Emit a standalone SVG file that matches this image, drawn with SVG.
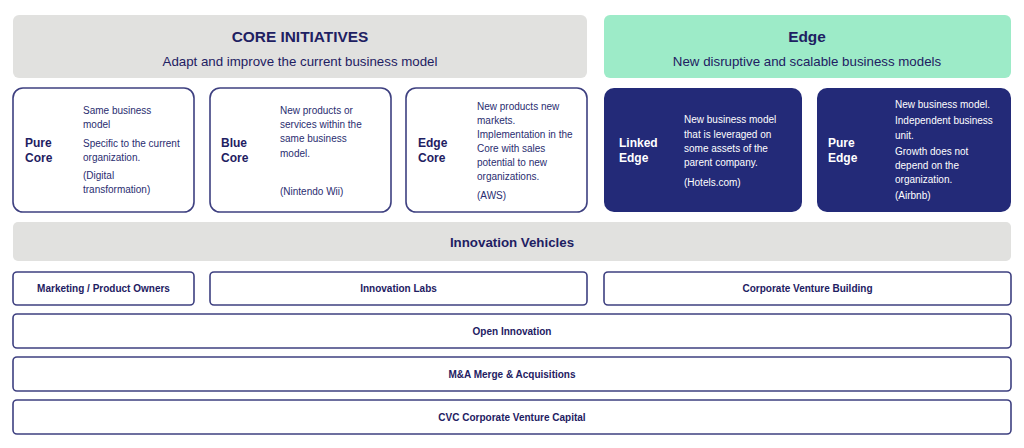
<svg xmlns="http://www.w3.org/2000/svg" width="1024" height="448" viewBox="0 0 1024 448">
<style>
text{font-family:"Liberation Sans",Arial,sans-serif;fill:#1e2062}
.hdr{fill:#e1e1df}
.edgehdr{fill:#9debc8}
.title{font-size:15.4px;font-weight:bold;text-anchor:middle}
.sub{font-size:13.3px;text-anchor:middle}
.card{fill:#fff;stroke:#3e4080;stroke-width:1.6}
.dark{fill:#232a78}
.lbl{font-size:12px;font-weight:bold}
.desc{font-size:10px;fill:#2a2d70}
.dark-t{fill:#fff}
.row{fill:#fff;stroke:#3e4080;stroke-width:1.6}
.rowt{font-size:10px;font-weight:bold;text-anchor:middle}
</style>
<rect width="1024" height="448" fill="#fff"/>
<g id="core-header">
<rect class="hdr" x="13" y="15" width="574" height="63" rx="6"/>
<text class="title" x="300" y="42">CORE INITIATIVES</text>
<text class="sub" x="300" y="66">Adapt and improve the current business model</text>
</g>
<g id="edge-header">
<rect class="edgehdr" x="604" y="15" width="407" height="63" rx="6"/>
<text class="title" x="807" y="42">Edge</text>
<text class="sub" x="807" y="66">New disruptive and scalable business models</text>
</g>
<g id="pure-core">
<rect class="card" x="13" y="88" width="181" height="124" rx="10"/>
<text class="lbl" x="25" y="147">Pure</text>
<text class="lbl" x="25" y="162">Core</text>
<text class="desc" x="83" y="114">Same business</text>
<text class="desc" x="83" y="128">model</text>
<text class="desc" x="83" y="147">Specific to the current</text>
<text class="desc" x="83" y="161">organization.</text>
<text class="desc" x="83" y="179">(Digital</text>
<text class="desc" x="83" y="193">transformation)</text>
</g>
<g id="blue-core">
<rect class="card" x="210" y="88" width="181" height="124" rx="10"/>
<text class="lbl" x="221" y="147">Blue</text>
<text class="lbl" x="221" y="162">Core</text>
<text class="desc" x="280" y="114">New products or</text>
<text class="desc" x="280" y="128">services within the</text>
<text class="desc" x="280" y="142">same business</text>
<text class="desc" x="280" y="157">model.</text>
<text class="desc" x="280" y="195">(Nintendo Wii)</text>
</g>
<g id="edge-core">
<rect class="card" x="406" y="88" width="181" height="124" rx="10"/>
<text class="lbl" x="418" y="147">Edge</text>
<text class="lbl" x="418" y="162">Core</text>
<text class="desc" x="477" y="110">New products new</text>
<text class="desc" x="477" y="124">markets.</text>
<text class="desc" x="477" y="138">Implementation in the</text>
<text class="desc" x="477" y="152">Core with sales</text>
<text class="desc" x="477" y="166">potential to new</text>
<text class="desc" x="477" y="180">organizations.</text>
<text class="desc" x="477" y="199">(AWS)</text>
</g>
<g id="linked-edge">
<rect class="dark" x="604" y="88" width="198" height="124" rx="10"/>
<text class="lbl dark-t" x="619" y="147">Linked</text>
<text class="lbl dark-t" x="619" y="162">Edge</text>
<text class="desc dark-t" x="684" y="123">New business model</text>
<text class="desc dark-t" x="684" y="138">that is leveraged on</text>
<text class="desc dark-t" x="684" y="152">some assets of the</text>
<text class="desc dark-t" x="684" y="166">parent company.</text>
<text class="desc dark-t" x="684" y="186">(Hotels.com)</text>
</g>
<g id="pure-edge">
<rect class="dark" x="817" y="88" width="194" height="124" rx="10"/>
<text class="lbl dark-t" x="828" y="147">Pure</text>
<text class="lbl dark-t" x="828" y="162">Edge</text>
<text class="desc dark-t" x="895" y="108">New business model.</text>
<text class="desc dark-t" x="895" y="124">Independent business</text>
<text class="desc dark-t" x="895" y="139">unit.</text>
<text class="desc dark-t" x="895" y="155">Growth does not</text>
<text class="desc dark-t" x="895" y="169">depend on the</text>
<text class="desc dark-t" x="895" y="183">organization.</text>
<text class="desc dark-t" x="895" y="199">(Airbnb)</text>
</g>
<g id="innovation-vehicles">
<rect class="hdr" x="13" y="222" width="998" height="39" rx="5"/>
<text class="title" style="font-size:13.3px" x="512" y="247">Innovation Vehicles</text>
</g>
<g id="marketing">
<rect class="row" x="13" y="272" width="181" height="33" rx="4"/>
<text class="rowt" x="103.5" y="292">Marketing / Product Owners</text>
</g>
<g id="innovation-labs">
<rect class="row" x="210" y="272" width="377" height="33" rx="4"/>
<text class="rowt" x="398.5" y="292">Innovation Labs</text>
</g>
<g id="corporate-venture-building">
<rect class="row" x="604" y="272" width="407" height="33" rx="4"/>
<text class="rowt" x="807.5" y="292">Corporate Venture Building</text>
</g>
<g id="open-innovation">
<rect class="row" x="13" y="314" width="998" height="34" rx="4"/>
<text class="rowt" x="512" y="335">Open Innovation</text>
</g>
<g id="ma">
<rect class="row" x="13" y="357" width="998" height="34" rx="4"/>
<text class="rowt" x="512" y="378">M&amp;A Merge &amp; Acquisitions</text>
</g>
<g id="cvc">
<rect class="row" x="13" y="400" width="998" height="34" rx="4"/>
<text class="rowt" x="512" y="421">CVC Corporate Venture Capital</text>
</g>
<g id="connectors"></g>
</svg>
